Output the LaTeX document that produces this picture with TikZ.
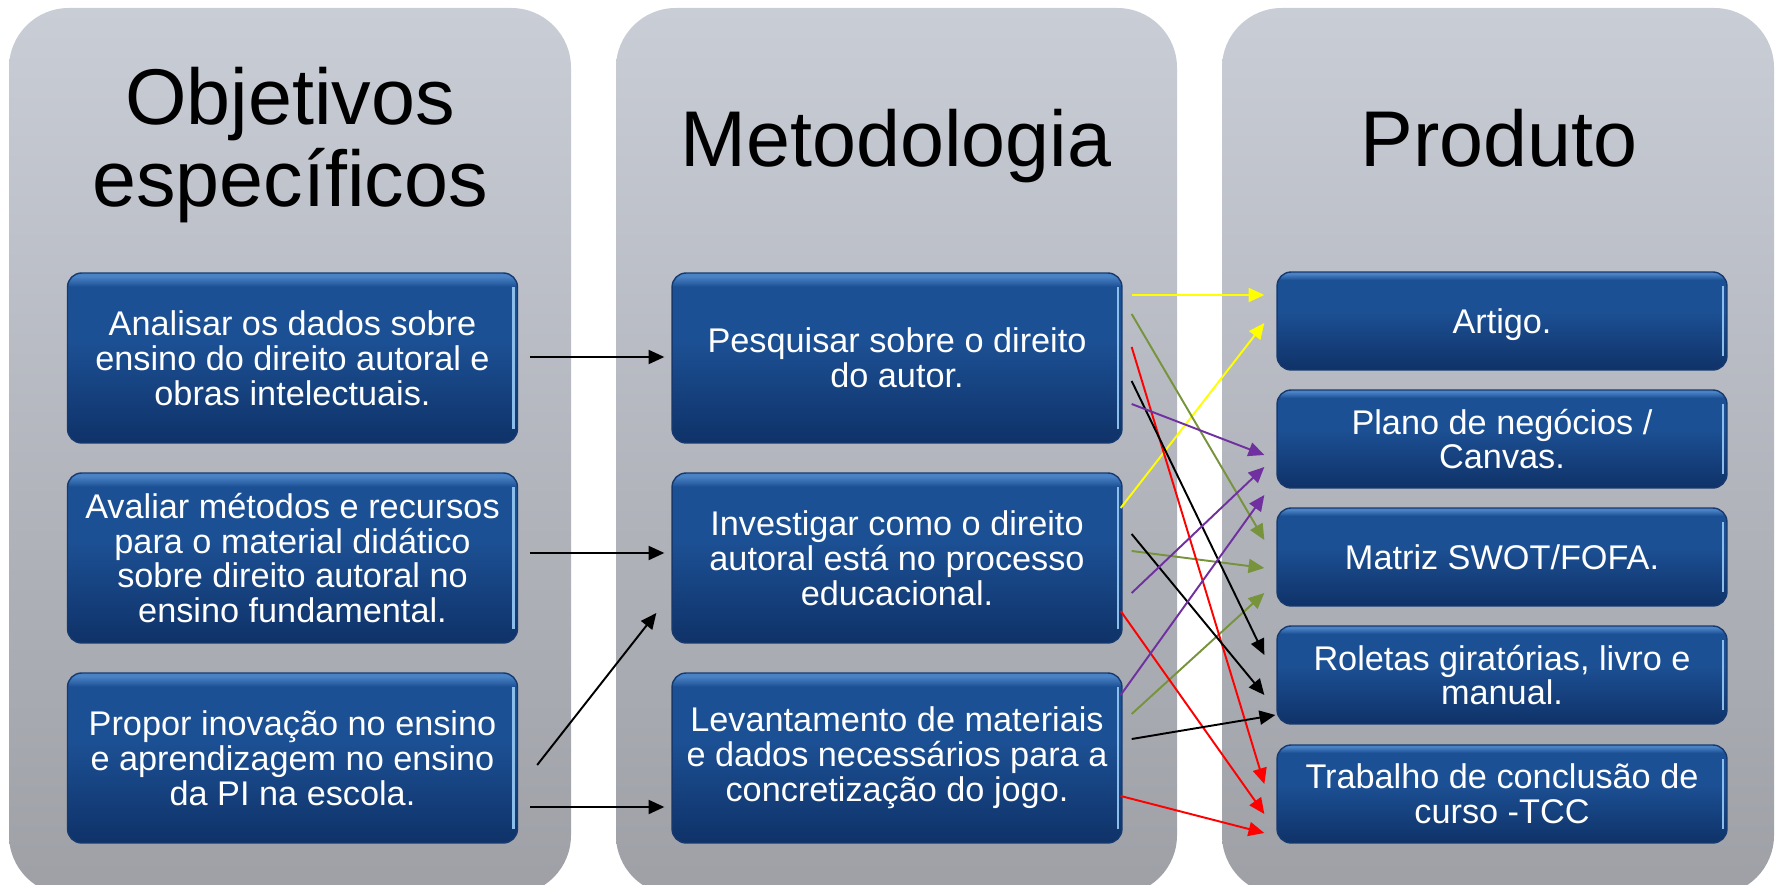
\documentclass[tikz,border=0pt]{standalone}
\usepackage{fontspec}
\setmainfont{Liberation Sans}
\usepackage{xcolor}
\usetikzlibrary{arrows.meta}

\definecolor{panelTop}{RGB}{201,205,214}
\definecolor{panelBot}{RGB}{158,160,166}
\definecolor{boxTop}{RGB}{74,130,198}
\definecolor{boxMid}{RGB}{28,80,148}
\definecolor{boxBot}{RGB}{15,50,104}
\definecolor{boxEdge}{RGB}{22,58,112}
\definecolor{boxGlow}{RGB}{140,190,235}
\definecolor{arrYellow}{RGB}{255,255,0}
\definecolor{arrOlive}{RGB}{119,147,60}
\definecolor{arrPurple}{RGB}{112,48,160}

\pgfdeclareverticalshading{boxshade}{100bp}{color(0bp)=(boxBot); color(25bp)=(boxBot); color(55bp)=(boxMid); color(71bp)=(boxMid); color(74bp)=(boxTop); color(100bp)=(boxTop)}

\tikzset{
  panel/.style={rounded corners=34pt, top color=panelTop, bottom color=panelBot},
  title/.style={font=\fontsize{45}{46.5}\selectfont, align=center},
  item/.style={shading=boxshade, draw=boxEdge, line width=0.8pt, rounded corners=8pt,
    minimum width=9cm, inner sep=0pt, text=white, align=center,
    font=\fontsize{19.5}{19.8}\selectfont,
    path picture={\draw[boxGlow, line width=1.4pt]
      ([xshift=-2.2pt,yshift=-8pt]path picture bounding box.north east) --
      ([xshift=-2.2pt,yshift=8pt]path picture bounding box.south east);}},
  tall/.style={item, minimum height=3.4cm},
  flat/.style={item, minimum height=1.96cm},
  link/.style={-{Triangle[length=9pt,width=8pt]}, line width=1.1pt},
}

\begin{document}
\begin{tikzpicture}[x=0.02cm, y=-0.02cm]
\useasboundingbox (0,0) rectangle (1776,885);

\shade[panel] (9,8) rectangle (571,895);
\shade[panel] (616,8) rectangle (1177,895);
\shade[panel] (1222,8) rectangle (1774,895);

\node[title] (T1) at (290,145) {Objetivos\\específicos};
\node[title, anchor=base] (T2) at (896,167) {Metodologia};
\node[title, anchor=base] (T3) at (1499,167) {Produto};

\node[tall] (L1) at (292.5,358) {Analisar os dados sobre\\ensino do direito autoral e\\obras intelectuais.};
\node[tall] (L2) at (292.5,558) {Avaliar métodos e recursos\\para o material didático\\sobre direito autoral no\\ensino fundamental.};
\node[tall] (L3) at (292.5,758) {Propor inovação no ensino\\e aprendizagem no ensino\\da PI na escola.};

\node[tall] (M1) at (897,358) {Pesquisar sobre o direito\\do autor.};
\node[tall] (M2) at (897,558) {Investigar como o direito\\autoral está no processo\\educacional.};
\node[tall] (M3) at (897,758) {Levantamento de materiais\\e dados necessários para a\\concretização do jogo.};

\node[flat, text depth=0pt] (R1) at (1502,321) {Artigo.};
\node[flat] (R2) at (1502,439) {Plano de negócios /\\Canvas.};
\node[flat] (R3) at (1502,557) {Matriz SWOT/FOFA.};
\node[flat] (R4) at (1502,675) {Roletas giratórias, livro e\\manual.};
\node[flat] (R5) at (1502,794) {Trabalho de conclusão de\\curso -TCC};

\draw[link] ([shift={(12,-1)}]L1.east) -- ([shift={(-7,-1)}]M1.west);
\draw[link] ([shift={(12,-5)}]L2.east) -- ([shift={(-7,-5)}]M2.west);
\draw[link] ([shift={(19,7)}]L3.east) -- ([shift={(-15,55)}]M2.west);
\draw[link] ([shift={(12,49)}]L3.east) -- ([shift={(-7,49)}]M3.west);

\draw[link, arrYellow] ([shift={(9,-63)}]M1.east) -- ([shift={(-12,-26)}]R1.west);
\draw[link, arrYellow] ([shift={(-2,-50)}]M2.east) -- ([shift={(-12,2)}]R1.west);

\draw[link, arrOlive] ([shift={(9,-44)}]M1.east) -- ([shift={(-12,-17)}]R3.west);
\draw[link, arrOlive] ([shift={(9,-7)}]M2.east) -- ([shift={(-12,11)}]R3.west);
\draw[link, arrOlive] ([shift={(9,-44)}]M3.east) -- ([shift={(-12,36)}]R3.west);

\draw[link, red] ([shift={(9,-11)}]M1.east) -- ([shift={(-12,-10)}]R5.west);
\draw[link, red] ([shift={(-2,53)}]M2.east) -- ([shift={(-12,20)}]R5.west);
\draw[link, red] ([shift={(-2,38)}]M3.east) -- ([shift={(-12,39)}]R5.west);

\draw[link] ([shift={(9,23)}]M1.east) -- ([shift={(-12,-20)}]R4.west);
\draw[link] ([shift={(9,-24)}]M2.east) -- ([shift={(-12,20)}]R4.west);
\draw[link] ([shift={(9,-19)}]M3.east) -- ([shift={(-1,40)}]R4.west);

\draw[link, arrPurple] ([shift={(9,46)}]M1.east) -- ([shift={(-12,16)}]R2.west);
\draw[link, arrPurple] ([shift={(9,35)}]M2.east) -- ([shift={(-12,28)}]R2.west);
\draw[link, arrPurple] ([shift={(-2,-63)}]M3.east) -- ([shift={(-12,56)}]R2.west);
\end{tikzpicture}
\end{document}
